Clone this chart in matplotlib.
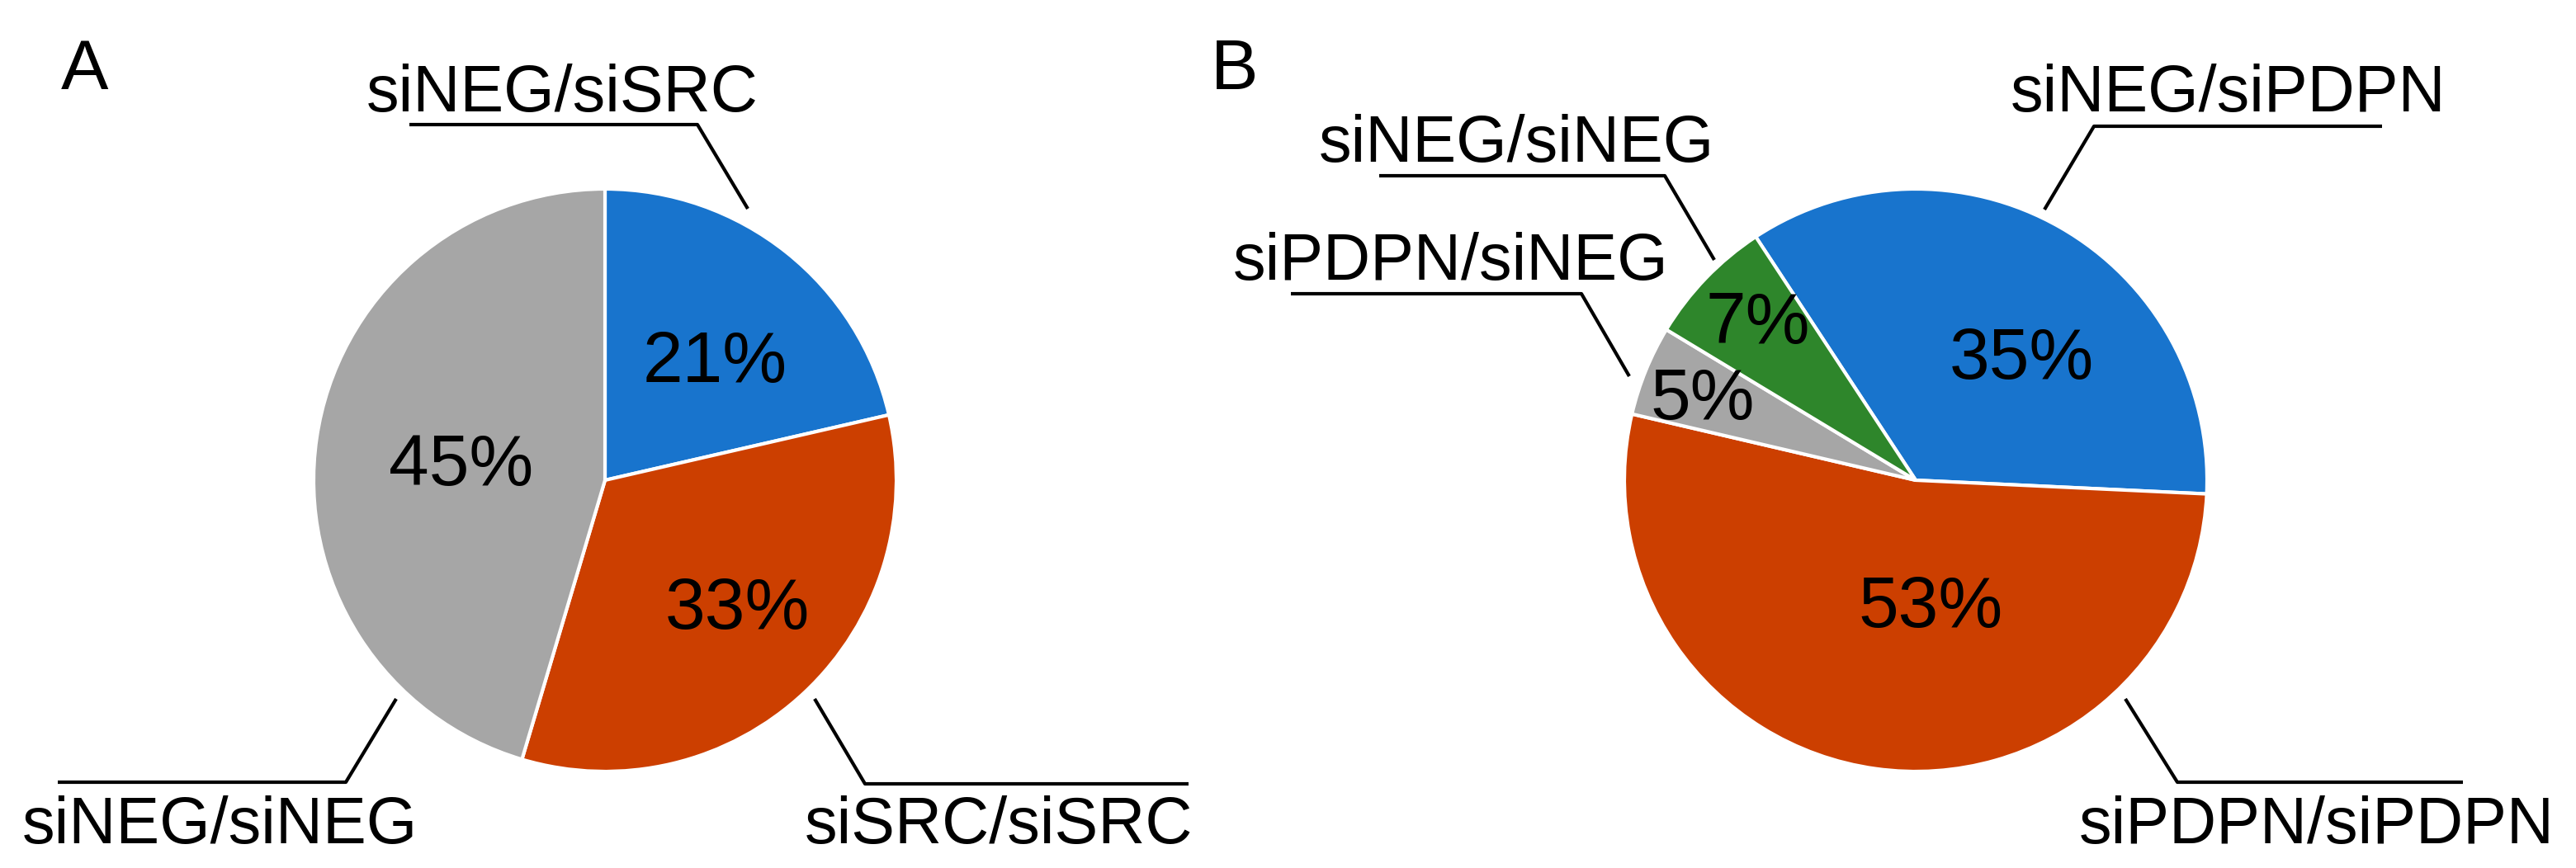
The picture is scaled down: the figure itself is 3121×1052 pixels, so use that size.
import numpy as np
import matplotlib
matplotlib.use("Agg")
import matplotlib.pyplot as plt

plt.rcParams['font.family'] = ['Liberation Sans', 'DejaVu Sans']

# canvas in pixels (1 data unit = 1 px)
W, H = 3121, 1052
R = 353

# ---- data ----
labels_a = ["siNEG/siSRC", "siSRC/siSRC", "siNEG/siNEG"]
values_a = [21.4, 33.2, 45.4]

labels_b = ["siNEG/siPDPN", "siPDPN/siPDPN", "siPDPN/siNEG", "siNEG/siNEG"]
values_b = [35.0, 52.9, 5.0, 7.1]

blue, orange, gray, green = "#1874CD", "#CC3F00", "#A6A6A6", "#2E862B"
colors_a = [blue, orange, gray]
colors_b = [blue, orange, gray, green]

# ---- layout (pixels, y measured from top) ----
center_a = (733, 582)
center_b = (2321, 582)
pct_r_a = [0.57, 0.62, 0.50]
pct_shift_a = [-3, 4, 0]
pct_r_b = [0.57, 0.42, 0.79, 0.78]
pct_shift_b = [-10, 15, 0, -2]

# leader polylines and text anchor (left, baseline) per label
leaders_a = [
    ([(906, 253), (845, 151), (496, 151)], (444, 135)),
    ([(987, 847), (1048, 950), (1440, 950)], (975, 1022)),
    ([(480, 847), (419, 948), (70, 948)], (27, 1022)),
]
leaders_b = [
    ([(2477, 254), (2537, 153), (2886, 153)], (2436, 135)),
    ([(2575, 847), (2638, 948), (2984, 948)], (2519, 1022)),
    ([(1974, 456), (1916, 356), (1564, 356)], (1494, 339)),
    ([(2077, 315), (2017, 213), (1671, 213)], (1598, 196)),
]

LABEL_FS = 57
PCT_FS = 63
PCT_EM = PCT_FS * 100 / 72.0


def draw_pie(ax, values, labels, colors, center, startangle, pct_r, pct_shift, leaders):
    cx, cy = center[0], H - center[1]
    wedges, _ = ax.pie(values, colors=colors, center=(cx, cy), radius=R,
                       startangle=startangle, counterclock=False,
                       wedgeprops=dict(edgecolor='white', linewidth=3))
    for w, v, r, s in zip(wedges, values, pct_r, pct_shift):
        ang = np.deg2rad((w.theta1 + w.theta2) / 2 + s)
        x = cx + r * R * np.cos(ang)
        y = cy + r * R * np.sin(ang)
        ax.text(x, y - 0.358 * PCT_EM, "%.0f%%" % v, ha='center', va='baseline',
                fontsize=PCT_FS, color='black')
    for lab, (pts, (tx, ty)) in zip(labels, leaders):
        xs = [p[0] for p in pts]
        ys = [H - p[1] for p in pts]
        ax.plot(xs, ys, color='black', lw=3, solid_capstyle='butt')
        ax.text(tx, H - ty, lab, ha='left', va='baseline', fontsize=LABEL_FS)


fig = plt.figure(figsize=(W / 100, H / 100), dpi=100)
ax = fig.add_axes([0, 0, 1, 1])

draw_pie(ax, values_a, labels_a, colors_a, center_a, 90, pct_r_a, pct_shift_a, leaders_a)
draw_pie(ax, values_b, labels_b, colors_b, center_b, 123.3, pct_r_b, pct_shift_b, leaders_b)

ax.text(74, H - 108, "A", ha='left', va='baseline', fontsize=62)
ax.text(1467, H - 108, "B", ha='left', va='baseline', fontsize=62)

ax.set_xlim(0, W)
ax.set_ylim(0, H)
ax.set_aspect('equal')
ax.axis('off')

fig.savefig("out.png", dpi=100)
